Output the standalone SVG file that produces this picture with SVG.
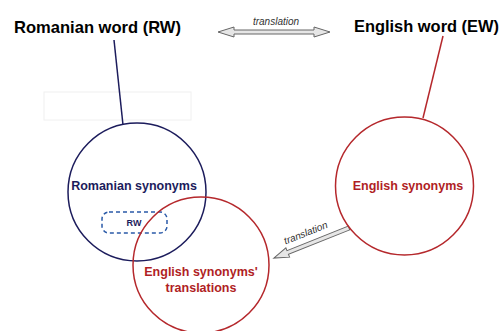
<svg xmlns="http://www.w3.org/2000/svg" width="502" height="331" viewBox="0 0 502 331">
<style>
.title{font-family:"Liberation Sans",Arial,sans-serif;font-weight:bold;font-size:16.5px;fill:#000}
.lbl{font-family:"Liberation Sans",Arial,sans-serif;font-weight:bold;font-size:12.5px;text-anchor:middle}
.tr{font-family:"Liberation Sans",Arial,sans-serif;font-style:italic;font-size:10px;fill:#333;text-anchor:middle}
.navy{stroke:#1c1c5c;fill:none;stroke-width:1.5}
.red{stroke:#b5282c;fill:none;stroke-width:1.5}
.arr{fill:#e6e6e6;stroke:#666;stroke-width:1}
</style>
<rect x="44" y="92" width="147" height="28" fill="none" stroke="#f0f0f0" stroke-width="1"/>
<g id="connectors">
<line class="navy" x1="114" y1="40" x2="123" y2="125"/>
<line class="red" x1="443" y1="36" x2="423" y2="118"/>
<path class="arr" d="M218,32 L234,27 L234,30 L314,30 L314,27 L330,32 L314,37 L314,34 L234,34 L234,37 Z"/>
<text class="tr" x="276" y="25">translation</text>
<g transform="translate(349,228) rotate(158.2)">
<path class="arr" d="M0,-2 L66,-2 L66,-5 L81,0 L66,5 L66,2 L0,2 Z"/>
</g>
<text class="tr" transform="translate(307,236) rotate(-21.8)">translation</text>
</g>
<g id="romanian-word"><text class="title" x="14" y="33" textLength="167" lengthAdjust="spacingAndGlyphs">Romanian word (RW)</text></g>
<g id="english-word"><text class="title" x="354" y="32" textLength="145" lengthAdjust="spacingAndGlyphs">English word (EW)</text></g>
<g id="romanian-synonyms">
<circle class="navy" cx="137" cy="192" r="69"/>
<text class="lbl" x="134" y="190" fill="#1c1c5c">Romanian synonyms</text>
<rect x="102" y="212" width="65" height="21" rx="7" fill="none" stroke="#2a5aa8" stroke-width="1.5" stroke-dasharray="4,3"/>
<text class="lbl" x="134" y="226" fill="#1c1c5c" style="font-size:9px">RW</text>
</g>
<g id="english-synonyms">
<circle class="red" cx="404.5" cy="186" r="69"/>
<text class="lbl" x="408" y="190" fill="#b01e24">English synonyms</text>
</g>
<g id="english-translations">
<circle class="red" cx="201" cy="265" r="68"/>
<text class="lbl" x="201" y="276" fill="#b01e24">English synonyms'</text>
<text class="lbl" x="201" y="292" fill="#b01e24">translations</text>
</g>
</svg>
